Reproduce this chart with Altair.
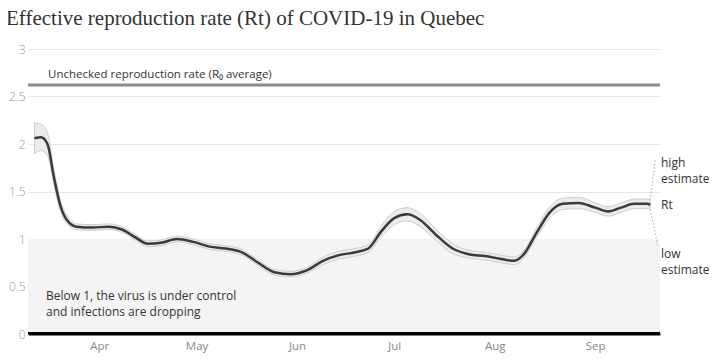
import altair as alt
import pandas as pd

dates = ["2020-03-12", "2020-03-14", "2020-03-16", "2020-03-18", "2020-03-20", "2020-03-22",
         "2020-03-25", "2020-03-30", "2020-04-04", "2020-04-08", "2020-04-12", "2020-04-16",
         "2020-04-20", "2020-04-25", "2020-04-30", "2020-05-05", "2020-05-10", "2020-05-15",
         "2020-05-20", "2020-05-25", "2020-05-30", "2020-06-04", "2020-06-09", "2020-06-14",
         "2020-06-19", "2020-06-23", "2020-06-27", "2020-07-01", "2020-07-05", "2020-07-09",
         "2020-07-14", "2020-07-19", "2020-07-24", "2020-07-29", "2020-08-03", "2020-08-07",
         "2020-08-10", "2020-08-14", "2020-08-18", "2020-08-22", "2020-08-27", "2020-09-01",
         "2020-09-05", "2020-09-09", "2020-09-13", "2020-09-17", "2020-09-18"]
rt = [2.06, 2.07, 2.00, 1.65, 1.35, 1.20, 1.13, 1.12, 1.13, 1.10, 1.02, 0.95,
      0.96, 1.00, 0.97, 0.92, 0.90, 0.86, 0.75, 0.65, 0.63, 0.67, 0.77, 0.83,
      0.86, 0.90, 1.08, 1.22, 1.26, 1.20, 1.04, 0.90, 0.84, 0.82, 0.79, 0.77,
      0.84, 1.07, 1.28, 1.37, 1.38, 1.33, 1.29, 1.33, 1.37, 1.37, 1.36]
low = [1.90, 1.93, 1.88, 1.57, 1.29, 1.16, 1.10, 1.09, 1.10, 1.07, 0.99, 0.92,
       0.93, 0.97, 0.94, 0.89, 0.87, 0.83, 0.72, 0.62, 0.60, 0.64, 0.73, 0.79,
       0.82, 0.86, 1.02, 1.15, 1.19, 1.13, 0.98, 0.85, 0.80, 0.78, 0.75, 0.73,
       0.80, 1.02, 1.22, 1.31, 1.32, 1.28, 1.24, 1.28, 1.32, 1.32, 1.31]
high = [2.22, 2.21, 2.12, 1.73, 1.41, 1.25, 1.16, 1.15, 1.16, 1.13, 1.05, 0.98,
        0.99, 1.03, 1.00, 0.95, 0.93, 0.89, 0.78, 0.68, 0.66, 0.70, 0.81, 0.87,
        0.90, 0.94, 1.14, 1.29, 1.33, 1.27, 1.10, 0.95, 0.88, 0.86, 0.83, 0.81,
        0.88, 1.12, 1.34, 1.43, 1.44, 1.38, 1.34, 1.38, 1.42, 1.42, 1.41]

r0_average = 2.62
x_start, x_end = "2020-03-10", "2020-09-21"
month_ticks = ["2020-04-01", "2020-05-01", "2020-06-01", "2020-07-01", "2020-08-01", "2020-09-01"]
y_ticks = [0, 0.5, 1, 1.5, 2, 2.5, 3]

df = pd.DataFrame({"date": pd.to_datetime(dates), "rt": rt, "low": low, "high": high})

FONT = "Open Sans"
W, H = 632, 285

xscale = alt.Scale(domain=[pd.Timestamp(x_start).isoformat(), pd.Timestamp(x_end).isoformat()])
yscale = alt.Scale(domain=[0, 3], nice=False)

xenc = alt.X("date:T", scale=xscale,
             axis=alt.Axis(values=[pd.Timestamp(t).isoformat() for t in month_ticks], format="%b",
                           title=None, grid=False, ticks=False, domain=True, domainColor="#000000",
                           domainWidth=2, domainOpacity=1, zindex=2,
                           labelColor="#888", labelFont=FONT,
                           labelFontSize=11.5, labelPadding=6))

# shaded band below 1
band_df = pd.DataFrame({"y": [0], "y2": [1]})
band = alt.Chart(band_df).mark_rect(color="#f4f4f4").encode(
    x=alt.value(0), x2=alt.value(W),
    y=alt.Y("y:Q", scale=yscale,
            axis=alt.Axis(values=y_ticks, format="~g", title=None, grid=True, gridColor="#e6e6e6",
                          ticks=False, domain=False, labelColor="#999", labelFont=FONT,
                          labelFontSize=12, labelPadding=3, labelFontWeight=300)),
    y2="y2:Q",
)

base = alt.Chart(df)
area = base.mark_area(color="#ebebeb", stroke="#cfcfcf", strokeWidth=1, interpolate="monotone").encode(
    x=xenc, y=alt.Y("low:Q", scale=yscale), y2="high:Q")
line = base.mark_line(color="#3a3a3a", strokeWidth=2.5, interpolate="monotone").encode(
    x=xenc, y=alt.Y("rt:Q", scale=yscale))

# zero baseline drawn just inside the plot area
zero = alt.Chart(band_df).mark_rule(color="#000000", strokeWidth=2, opacity=1).encode(
    x=alt.value(0), x2=alt.value(W), y=alt.value(H - 1))

# R0 reference
r0_df = pd.DataFrame({"y": [r0_average], "label": ["Unchecked reproduction rate (R\u2080 average)"]})
r0_rule = alt.Chart(r0_df).mark_rule(color="#8a8a8a", strokeWidth=3).encode(
    x=alt.value(0), x2=alt.value(W), y=alt.Y("y:Q", scale=yscale))
r0_text = alt.Chart(r0_df).mark_text(align="left", baseline="bottom", dy=-5,
                                     font=FONT, fontSize=11.5, color="#333").encode(
    x=alt.value(20), y=alt.Y("y:Q", scale=yscale), text="label:N")

below_df = pd.DataFrame({"y": [0.45], "label": [["Below 1, the virus is under control",
                                                  "and infections are dropping"]]})
below_text = alt.Chart(below_df).mark_text(align="left", baseline="top", font=FONT, fontSize=12,
                                           color="#333", lineHeight=15.5).encode(
    x=alt.value(18), y=alt.Y("y:Q", scale=yscale), text="label")

# right-hand labels
last = df.iloc[-1]
lab_df = pd.DataFrame({
    "y": [1.80, last["rt"], 0.84],
    "label": [["high", "estimate"], ["Rt"], ["low", "estimate"]],
})
labels = alt.Chart(lab_df).mark_text(align="left", baseline="middle", font=FONT, fontSize=12,
                                     color="#333", lineHeight=16).encode(
    x=alt.value(W + 1), y=alt.Y("y:Q", scale=yscale), text="label")

lead_df = pd.DataFrame({
    "date": [last["date"], last["date"]],
    "date2": [pd.Timestamp("2020-09-19 12:00"), pd.Timestamp("2020-09-20 06:00")],
    "y": [last["high"], last["low"]],
    "y2": [1.83, 0.94],
})
leads = alt.Chart(lead_df).mark_rule(color="#aaa", strokeDash=[1.5, 2], strokeWidth=1).encode(
    x=alt.X("date:T", scale=xscale), x2="date2:T",
    y=alt.Y("y:Q", scale=yscale), y2="y2:Q",
)

chart = alt.layer(band, area, line, r0_rule, r0_text, below_text, labels, leads, zero).properties(
    width=W, height=H,
    title=alt.TitleParams("Effective reproduction rate (Rt) of COVID-19 in Quebec",
                          anchor="start", frame="group", font="Liberation Serif", fontSize=21,
                          fontWeight="normal", color="#333", dx=-22, offset=14),
    autosize=alt.AutoSizeParams(type="none"),
    padding={"left": 20, "top": 41, "right": 49, "bottom": 19},
).configure_view(stroke=None).configure_axis(labelFont=FONT)

chart.save("out.html", embed_options={"renderer": "svg", "actions": False})
